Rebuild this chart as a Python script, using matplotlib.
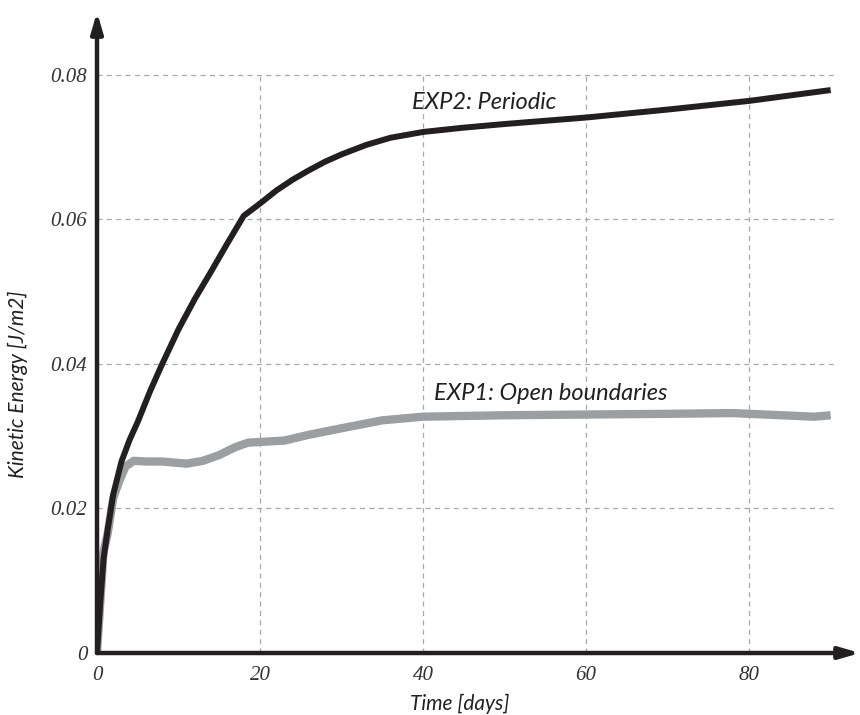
import matplotlib.pyplot as plt
import numpy as np

plt.rcParams['font.family'] = ['Lato', 'DejaVu Sans']
plt.rcParams['font.style'] = 'italic'

# EXP2: periodic
days_per = np.array([0, 0.4, 0.8, 1.3, 2, 3, 4, 5, 6.5, 8, 10, 12, 14, 16, 18, 20,
                     22, 24, 26, 28, 30, 33, 36, 40, 45, 50, 60, 70, 80, 90])
ke_per = np.array([0, 0.007, 0.013, 0.017, 0.022, 0.0265, 0.0295, 0.032, 0.0362, 0.040,
                   0.0448, 0.049, 0.0528, 0.0567, 0.0605, 0.0622, 0.0640, 0.0655, 0.0668,
                   0.0680, 0.0690, 0.0703, 0.0713, 0.0721, 0.0727, 0.0732, 0.0741, 0.0752,
                   0.0764, 0.0779])

# EXP1: open boundaries
days_open = np.array([0, 0.4, 0.8, 1.3, 2, 2.8, 3.5, 4.5, 6, 8, 11, 13, 15, 17, 18.5, 20,
                      23, 26, 30, 35, 40, 50, 60, 70, 78, 84, 88, 90])
ke_open = np.array([0, 0.007, 0.014, 0.0165, 0.0215, 0.024, 0.0258, 0.0266, 0.0265, 0.0265,
                    0.0262, 0.0266, 0.0274, 0.0285, 0.0291, 0.0292, 0.0294, 0.0302, 0.0311,
                    0.0322, 0.0327, 0.0329, 0.0330, 0.0331, 0.0332, 0.0329, 0.0327, 0.0329])

xticks = [0, 20, 40, 60, 80]
yticks = [0, 0.02, 0.04, 0.06, 0.08]
ytick_labels = ['0', '0.02', '0.04', '0.06', '0.08']

txt = '#231f20'
fig = plt.figure(figsize=(8.6, 7.15), dpi=100)
ax = fig.add_axes([0.1128, 0.0867, 0.8872, 0.8965])
ax.set_xlim(0, 93.6)
ax.set_ylim(0, 0.0887)

# dashed grid
grid_kw = dict(color='#a8a8a8', lw=0.9, linestyles=(0, (4, 3.5)), zorder=1)
ax.hlines(yticks[1:], 0, 90.8, **grid_kw)
ax.vlines(xticks[1:], 0, 0.08, **grid_kw)

ax.plot(days_open, ke_open, color='#9b9fa2', lw=6, solid_capstyle='butt', zorder=3)
ax.plot(days_per, ke_per, color='#231f20', lw=4.3, solid_capstyle='butt', zorder=4)

ax.text(38.6, 0.0753, 'EXP2: Periodic', fontsize=17, color=txt)
ax.text(41.3, 0.0350, 'EXP1: Open boundaries', fontsize=17, color=txt)

for s in ax.spines.values():
    s.set_visible(False)

# axis arrows
arrow_kw = dict(arrowstyle='-|>,head_length=1.2,head_width=0.35', color=txt, lw=3.2,
                shrinkA=0, shrinkB=0)
ax.annotate('', xy=(0, 1), xytext=(0, 0), xycoords='axes fraction',
            arrowprops=arrow_kw, annotation_clip=False)
ax.annotate('', xy=(1, 0), xytext=(0, 0), xycoords='axes fraction',
            arrowprops=arrow_kw, annotation_clip=False)

ax.set_xticks(xticks)
ax.set_yticks(yticks)
ax.set_yticklabels(ytick_labels)
ax.tick_params(length=0, labelsize=15, labelcolor='#333333')
ax.tick_params(axis='x', pad=9)
ax.tick_params(axis='y', pad=7)
for lab in ax.get_xticklabels() + ax.get_yticklabels():
    lab.set_family('Liberation Serif')
    lab.set_style('italic')

ax.set_xlabel('Time [days]', fontsize=15, color=txt)
ax.set_ylabel('Kinetic Energy [J/m2]', fontsize=15, color=txt)
ax.xaxis.set_label_coords(0.475, -0.064)
ax.yaxis.set_label_coords(-0.091, 0.42)

fig.savefig('out.png', dpi=100)
